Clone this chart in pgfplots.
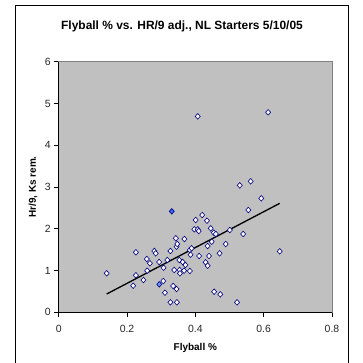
\documentclass[border=0pt]{standalone}
\usepackage{fontspec}
\setmainfont{Liberation Sans}
\usepackage{pgfplots}
\pgfplotsset{compat=1.18}
\definecolor{plotbg}{HTML}{C0C0C0}
\definecolor{navy}{HTML}{000080}
\definecolor{fillblue}{HTML}{3366FF}
\definecolor{lightblue}{HTML}{6F93FF}
\definecolor{bordergray}{HTML}{808080}

\pgfplotstableread{
x y
0.1405 0.934
0.226 1.436
0.226 0.886
0.218 0.637
0.248 0.773
0.258 1.276
0.267 1.173
0.259 0.996
0.280 1.468
0.284 1.412
0.294 1.204
0.306 0.749
0.307 1.068
0.311 0.469
0.318 1.252
0.327 1.468
0.327 0.239
0.335 0.630
0.338 1.013
0.343 1.772
0.345 1.571
0.347 1.635
0.345 0.558
0.346 0.239
0.353 1.252
0.354 1.013
0.355 0.934
0.363 1.204
0.368 1.755
0.367 0.996
0.371 1.132
0.384 0.989
0.384 1.492
0.386 1.379
0.389 1.532
0.397 1.987
0.401 2.210
0.407 1.987
0.410 1.946
0.411 1.348
0.420 2.329
0.434 2.193
0.430 1.197
0.436 1.587
0.436 1.116
0.440 1.348
0.445 2.011
0.448 1.690
0.454 1.906
0.460 1.875
0.455 0.493
0.473 0.431
0.471 1.412
0.489 1.635
0.501 1.970
0.522 0.239
0.530 3.040
0.540 1.875
0.555 2.449
0.562 3.136
0.593 2.729
0.647 1.460
0.407 4.692
0.613 4.788
}\hollow

\pgfplotstableread{
x y
0.331 2.418
}\darkpt

\pgfplotstableread{
x y
0.2945 0.670
}\lightpt

\begin{document}
\begin{tikzpicture}
\useasboundingbox (-58.7bp,-50.7bp) rectangle (304.3bp,312.3bp);
\begin{axis}[
  at={(0,0)}, anchor=south west, scale only axis,
  width=273.3bp, height=250.6bp,
  xmin=0, xmax=0.8, ymin=0, ymax=6,
  xtick={0,0.2,0.4,0.6,0.8}, ytick={0,1,2,3,4,5,6},
  xticklabels={0,0.2,0.4,0.6,0.8},
  yticklabels={0,1,2,3,4,5,6},
  xtick pos=bottom, ytick pos=left,
  tick align=outside, major tick length=4.5bp,
  every tick/.style={black, line width=0.6bp},
  axis line style={draw=bordergray, line width=0.8bp},
  axis background/.style={fill=plotbg},
  ticklabel style={font=\fontsize{10.5}{12}\selectfont, text=black!85},
  xticklabel style={yshift=-4.5bp},
  /pgf/number format/assume math mode=true,
  clip=false,
]
\addplot[only marks, mark=diamond*, mark size=2.8bp,
  mark options={draw=navy, fill=white, xscale=1.2, line width=0.6bp}]
  table[x=x, y=y] {\hollow};
\addplot[only marks, mark=diamond*, mark size=2.8bp,
  mark options={draw=navy, fill=lightblue, xscale=1.2, line width=0.6bp}]
  table[x=x, y=y] {\lightpt};
\addplot[only marks, mark=diamond*, mark size=2.8bp,
  mark options={draw=navy, fill=fillblue, xscale=1.2, line width=0.6bp}]
  table[x=x, y=y] {\darkpt};
\addplot[black, line width=1.3bp] coordinates {(0.1405,0.438) (0.647,2.609)};
\draw[black, line width=0.8bp] (rel axis cs:0,1) -- (rel axis cs:0,0) -- (rel axis cs:1,0);
\end{axis}
\draw[black, line width=0.9bp] (-43.7bp,-60bp) -- (-43.7bp,307.3bp) -- (289.3bp,307.3bp) -- (289.3bp,-60bp);
\node[font=\bfseries\fontsize{12}{14}\selectfont] at (123.3bp,285.6bp) {Flyball \% vs. HR/9 adj., NL Starters 5/10/05};
\node[font=\bfseries\fontsize{10}{12}\selectfont] at (136.6bp,-36bp) {Flyball \%};
\node[font=\bfseries\fontsize{10}{12}\selectfont, rotate=90] at (-25.7bp,125.3bp) {Hr/9, Ks rem.};
\end{tikzpicture}
\end{document}
